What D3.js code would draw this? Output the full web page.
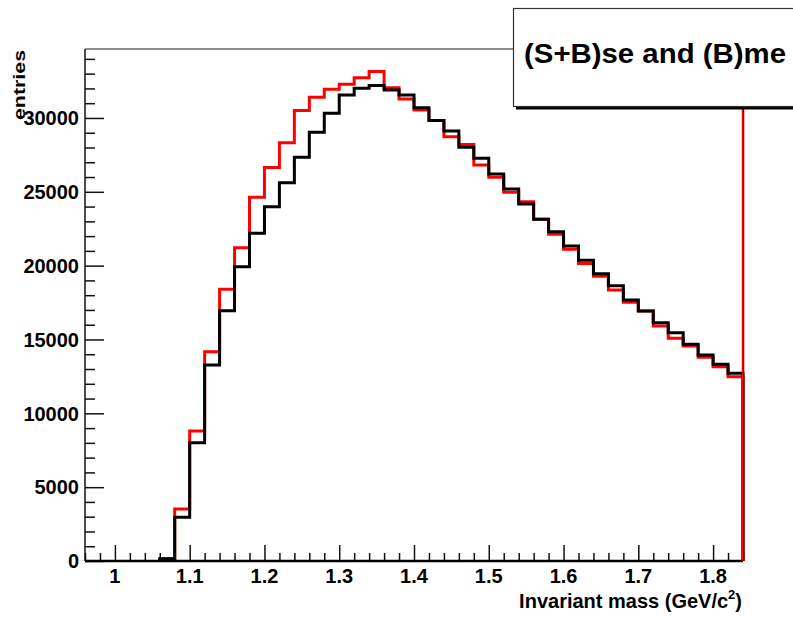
<!DOCTYPE html>
<html>
<head>
<meta charset="utf-8">
<script src="https://cdn.jsdelivr.net/npm/d3@7"></script>
<style>
  html, body { margin: 0; padding: 0; background: #fff; }
  svg { display: block; }
  text { font-family: "Liberation Sans", Arial, Helvetica, sans-serif; font-weight: bold; }
</style>
</head>
<body>
<svg id="chart" width="793" height="617"></svg>
<script>
// ---- data ----
const binEdgesStart = 0.96;
const binWidth = 0.02;
const binCount = 44;
// (S+B) same-event, red
const seValues = [0, 0, 0, 0, 0, 150, 3520, 8800, 14170, 18400, 21220, 24630, 26640, 28330, 30500,
  31400, 31940, 32280, 32730, 33140, 32050, 31290, 30540, 29820, 28730, 28210, 26810, 25980,
  24970, 24330, 23140, 22120, 21110, 20140, 19280, 18350, 17520, 16930, 15910, 15080, 14560,
  13790, 13160, 12480];
// (B) mixed-event, black
const meValues = [0, 0, 0, 0, 0, 150, 2960, 8010, 13270, 16950, 19930, 22190, 23990, 25620, 27340,
  29030, 30320, 31560, 32010, 32190, 31900, 31560, 30700, 29820, 29120, 28010, 27270, 26210,
  25190, 24180, 23140, 22300, 21330, 20360, 19450, 18640, 17670, 16930, 16140, 15460, 14670,
  13950, 13320, 12710];
const xTickLabels = ["1", "1.1", "1.2", "1.3", "1.4", "1.5", "1.6", "1.7", "1.8"];
const yTickLabels = ["0", "5000", "10000", "15000", "20000", "25000", "30000"];
const xDomain = [0.96, 1.84];
const yDomain = [0, 34670];
const legendText = "(S+B)se and (B)me";
const xTitle = "Invariant mass (GeV/c";
const yTitle = "entries";

// ---- layout ----
const L = 85, R = 743, T = 49, B = 561;
const svg = d3.select("#chart");
const x = d3.scaleLinear().domain(xDomain).range([L, R]);
const y = d3.scaleLinear().domain(yDomain).range([B, T]);

// frame top line
svg.append("line").attr("x1", L).attr("x2", R).attr("y1", T).attr("y2", T)
  .attr("stroke", "#222").attr("stroke-width", 1.2);

// histogram step paths (leading empty bins sit on the axis, not drawn)
function stepPoints(vals) {
  const pts = [];
  const first = vals.findIndex(v => v > 0);
  vals.forEach((v, i) => {
    if (i < first) return;
    const x0 = binEdgesStart + i * binWidth, x1 = x0 + binWidth;
    if (i === first) pts.push([x(x0), y(0)]);
    pts.push([x(x0), y(v)]);
    pts.push([x(x1), y(v)]);
  });
  pts.push([x(binEdgesStart + binCount * binWidth), y(0)]);
  return pts;
}
const line = d3.line();
svg.append("path").attr("d", line(stepPoints(seValues)))
  .attr("fill", "none").attr("stroke", "#ff0000").attr("stroke-width", 3)
  .attr("stroke-linejoin", "miter");
svg.append("path").attr("d", line(stepPoints(meValues)))
  .attr("fill", "none").attr("stroke", "#000").attr("stroke-width", 3)
  .attr("stroke-linejoin", "miter");

// y axis
const yMajor = yTickLabels.map(Number);
const yMinor = d3.range(0, 34001, 1000).filter(v => v % 5000 !== 0);
const yAxis = d3.axisRight(y).tickValues(yMajor).tickSize(19).tickFormat("");
const gy = svg.append("g").attr("transform", `translate(${L},0)`).call(yAxis);
gy.select(".domain").remove();
gy.selectAll(".tick line").attr("stroke", "#111").attr("stroke-width", 1.5);
const yAxisMinor = d3.axisRight(y).tickValues(yMinor).tickSize(10).tickFormat("");
const gym = svg.append("g").attr("transform", `translate(${L},0)`).call(yAxisMinor);
gym.select(".domain").remove();
gym.selectAll(".tick line").attr("stroke", "#111").attr("stroke-width", 1.5);
svg.append("line").attr("x1", L).attr("x2", L).attr("y1", T).attr("y2", B)
  .attr("stroke", "#111").attr("stroke-width", 1.5);
svg.selectAll(".ylab").data(yTickLabels).enter().append("text")
  .attr("x", 79).attr("y", d => y(+d)).attr("dy", "0.36em")
  .attr("text-anchor", "end").attr("font-size", 20).attr("fill", "#000").text(d => d);

// x axis
const xMajor = xTickLabels.map(Number);
const xMinor = d3.range(0, 45).map(i => +(0.96 + i * 0.02).toFixed(2))
  .filter(v => !xMajor.some(m => Math.abs(m - v) < 1e-6));
const xAxis = d3.axisTop(x).tickValues(xMajor).tickSize(16).tickFormat("");
const gx = svg.append("g").attr("transform", `translate(0,${B})`).call(xAxis);
gx.select(".domain").remove();
gx.selectAll(".tick line").attr("stroke", "#111").attr("stroke-width", 1.5);
const xAxisMinor = d3.axisTop(x).tickValues(xMinor).tickSize(8).tickFormat("");
const gxm = svg.append("g").attr("transform", `translate(0,${B})`).call(xAxisMinor);
gxm.select(".domain").remove();
gxm.selectAll(".tick line").attr("stroke", "#111").attr("stroke-width", 1.5);
svg.append("line").attr("x1", L).attr("x2", R).attr("y1", B).attr("y2", B)
  .attr("stroke", "#000").attr("stroke-width", 2.4);
svg.selectAll(".xlab").data(xTickLabels).enter().append("text")
  .attr("x", d => x(+d)).attr("y", 583)
  .attr("text-anchor", "middle").attr("font-size", 20).attr("fill", "#000").text(d => d);

// right edge red line
svg.append("line").attr("x1", x(xDomain[1])).attr("x2", x(xDomain[1]))
  .attr("y1", T).attr("y2", B).attr("stroke", "#ff0000").attr("stroke-width", 2.5);
svg.append("line").attr("x1", x(xDomain[1]) + 0.6).attr("x2", x(xDomain[1]) + 0.6)
  .attr("y1", T).attr("y2", B).attr("stroke", "#400").attr("stroke-width", 0.7);

// axis titles
const xt = svg.append("text").attr("x", 742).attr("y", 608).attr("text-anchor", "end")
  .attr("font-size", 20).attr("fill", "#000");
xt.append("tspan").text(xTitle);
xt.append("tspan").attr("font-size", 13).attr("dy", -9).text("2");
xt.append("tspan").attr("dy", 9).text(")");

svg.append("text").attr("transform", "translate(25,50) rotate(-90)")
  .attr("text-anchor", "end").attr("font-size", 17)
  .attr("textLength", 70).attr("lengthAdjust", "spacingAndGlyphs")
  .attr("fill", "#000").text(yTitle);

// legend box with shadow
svg.append("rect").attr("x", 516).attr("y", 11).attr("width", 300).attr("height", 98.5)
  .attr("fill", "#000");
svg.append("rect").attr("x", 513.5).attr("y", 8.5).attr("width", 300).attr("height", 98)
  .attr("fill", "#fff").attr("stroke", "#333").attr("stroke-width", 1.2);
svg.append("text").attr("x", 524).attr("y", 63).attr("font-size", 28)
  .attr("textLength", 262).attr("lengthAdjust", "spacingAndGlyphs")
  .attr("fill", "#000").text(legendText);
</script>
</body>
</html>
